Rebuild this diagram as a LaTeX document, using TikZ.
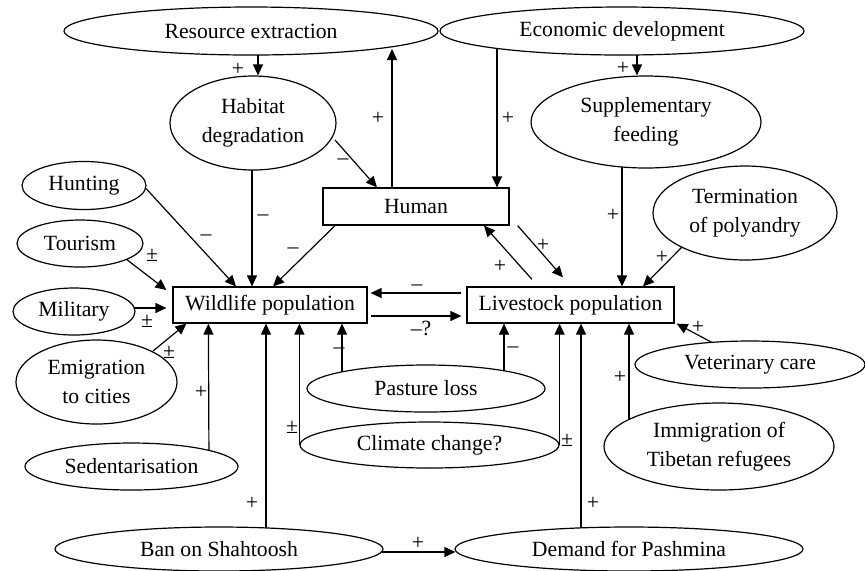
\documentclass[tikz,border=0pt]{standalone}
\usepackage{fontspec}
\setmainfont{Liberation Serif}
\usetikzlibrary{shapes.geometric,arrows.meta,calc,backgrounds}
\begin{document}
\begin{tikzpicture}[x=0.5pt,y=-0.5pt,
  every node/.style={font=\fontsize{10.85}{14.5}\selectfont},
  ell/.style={ellipse,draw,fill=white,inner sep=0pt,line width=0.6pt,align=center},
  box/.style={rectangle,draw,fill=white,inner sep=0pt,line width=0.6pt},
  arr/.style={line width=0.6pt,-{Triangle[length=5.5pt,width=5pt]}},
  plain/.style={line width=0.6pt},
  lab/.style={inner sep=0pt}]
\useasboundingbox (0,0) rectangle (865,570);
% nodes
\node[ell,minimum width=187pt,minimum height=24pt] (res) at (251,31) {Resource extraction};
\node[ell,minimum width=182pt,minimum height=24pt] (eco) at (622,31) {Economic development};
\node[ell,minimum width=83pt,minimum height=47pt] (hab) at (253,123) {Habitat\\degradation};
\node[ell,minimum width=115pt,minimum height=46pt] (sup) at (646,122) {Supplementary\\feeding};
\node[box,minimum width=93pt,minimum height=18.5pt] (hum) at (416,206.5) {Human};
\node[ell,minimum width=62pt,minimum height=24pt] (hunt) at (84,185.5) {Hunting};
\node[ell,minimum width=92pt,minimum height=47pt] (term) at (745,213) {Termination\\of polyandry};
\node[ell,minimum width=63pt,minimum height=23.5pt] (tour) at (80,243.5) {Tourism};
\node[box,minimum width=97pt,minimum height=18pt] (wild) at (270,305) {Wildlife population};
\node[box,minimum width=103.5pt,minimum height=18pt] (live) at (570.5,305) {Livestock population};
\node[ell,minimum width=61pt,minimum height=23.5pt] (mil) at (74,311.5) {Military};
\node[ell,minimum width=115pt,minimum height=23.5pt] (vet) at (750,364.5) {Veterinary care};
\node[ell,minimum width=80.5pt,minimum height=42pt] (emig) at (96.5,382) {Emigration\\to cities};
\node[ell,minimum width=119pt,minimum height=23.5pt] (past) at (426,388.5) {Pasture loss};
\node[ell,minimum width=129.5pt,minimum height=23pt] (clim) at (429.5,445) {Climate change?};
\node[ell,minimum width=115pt,minimum height=43.5pt] (imm) at (719,446.5) {Immigration of\\Tibetan refugees};
\node[ell,minimum width=106.5pt,minimum height=23.5pt] (sed) at (131.5,466.5) {Sedentarisation};
\node[ell,minimum width=164pt,minimum height=22pt] (ban) at (219,549) {Ban on Shahtoosh};
\node[ell,minimum width=174pt,minimum height=22pt] (dem) at (629,549) {Demand for Pashmina};
% connectors
\begin{pgfonlayer}{background}
\draw[arr] ($(res)+(7,0)$) -- ($(hab.north)+(5,0)$);
\draw[arr] ($(hum.north)+(-24,0)$) -- ($(res)+(141,18)$);
\draw[arr] ($(eco)+(-125,0)$) -- ($(hum.north)+(81,0)$);
\draw[arr] ($(eco)+(15,0)$) -- ($(sup.north)+(-9,0)$);
\draw[arr] ($(hab)+(82,17)$) -- ($(hum.north)+(-39,0)$);
\draw[arr] ($(hab)+(-1,0)$) -- ($(wild.north)+(-18,0)$);
\draw[arr] ($(hunt)+(62,3)$) -- ($(wild.north)+(-34,0)$);
\draw[arr] ($(hum.south)+(-81,0)$) -- ($(wild.north)+(3,0)$);
\draw[arr] ($(tour)+(46,15.5)$) -- ($(wild.west)+(-6,-15)$);
\draw[arr] ($(mil)+(60,-3.5)$) -- ($(wild.west)+(-6,3)$);
\draw[arr] ($(emig)+(56.5,-31)$) -- ($(wild.south west)+(14,0)$);
\draw[arr] ($(sed)+(77.5,0)$) -- ($(wild.south west)+(36,0)$);
\draw[arr] ($(ban)+(47,0)$) -- ($(wild.south)+(-4,0)$);
\draw[arr] (clim.west) -- (clim.west |- wild.south);
\draw[arr] ($(past)+(-84,0)$) -- ($(wild.south)+(72,0)$);
\draw[arr] ($(past)+(78,0)$) -- ($(live.south)+(-66.5,0)$);
\draw[arr] (clim.east) -- (clim.east |- live.south);
\draw[arr] ($(dem)+(-48,0)$) -- ($(live.south)+(10.5,0)$);
\draw[arr] ($(imm)+(-90,0)$) -- ($(live.south)+(58.5,0)$);
\draw[arr] ($(sup)+(-24,0)$) -- ($(live.north)+(51.5,0)$);
\draw[arr] ($(term)+(-63,34)$) -- ($(live.north)+(72.5,0)$);
\draw[arr] ($(vet)+(-37,-21.5)$) -- ($(live.south east)+(2,0)$);
\draw[arr] ($(live.north)+(-38.5,-7)$) -- ($(hum.south)+(68,0)$);
\draw[arr] ($(hum.south east)+(8,0)$) -- ($(live.north)+(-7.5,-9)$);
\draw[arr] ($(live.west)+(-5,-12)$) -- ($(wild.east)+(3,-12)$);
\draw[arr] ($(wild.east)+(3,11)$) -- ($(live.west)+(-5,11)$);
\draw[arr] ($(ban.east)+(-2,3)$) -- ($(dem.west)+(1,3)$);
\end{pgfonlayer}
% labels
\node[lab] (l1) at (238,69) {+};
\node[lab] (l2) at (378,118) {+};
\node[lab] (l3) at (343,162) {--};
\node[lab] (l4) at (508,118) {+};
\node[lab] (l5) at (623,68) {+};
\node[lab] (l6) at (263,218) {--};
\node[lab] (l7) at (206,238) {--};
\node[lab] (l8) at (293,251) {--};
\node[lab] (l9) at (152,255) {±};
\node[lab] (l10) at (147,321) {±};
\node[lab] (l11) at (169,352) {±};
\node[lab] (l12) at (613,215) {+};
\node[lab] (l13) at (662,257) {+};
\node[lab] (l14) at (543,245) {+};
\node[lab] (l15) at (500,266) {+};
\node[lab] (l16) at (417,288) {--};
\node[lab] (l17) at (421,328) {--?};
\node[lab] (l18) at (698,327) {+};
\node[lab] (l19) at (339,351) {--};
\node[lab] (l20) at (513,350) {--};
\node[lab] (l21) at (201,392) {+};
\node[lab] (l22) at (292,427) {±};
\node[lab] (l23) at (567,440) {±};
\node[lab] (l24) at (620,377) {+};
\node[lab] (l25) at (252,503) {+};
\node[lab] (l26) at (593,503) {+};
\node[lab] (l27) at (418,543) {+};
\end{tikzpicture}
\end{document}
